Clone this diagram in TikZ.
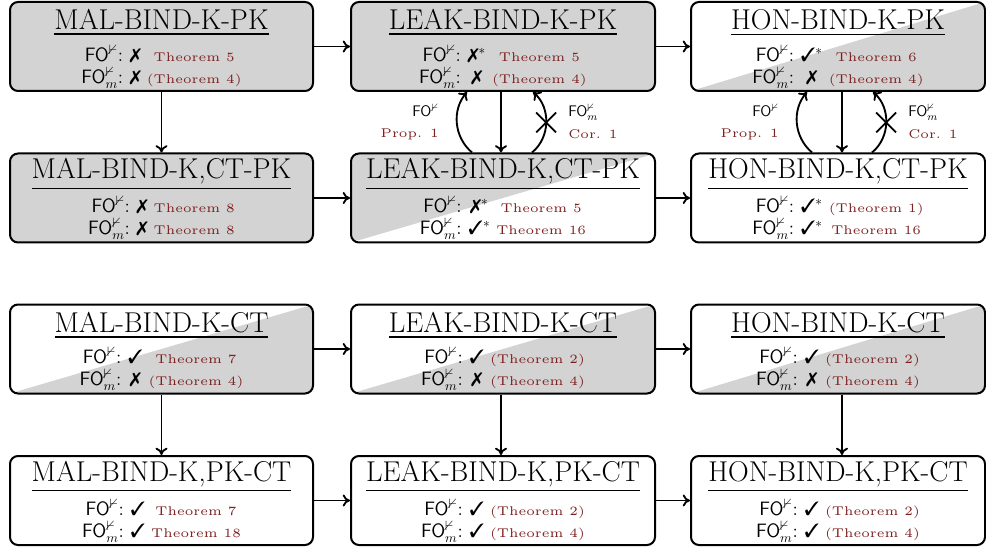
\documentclass[tikz,border=0pt]{standalone}
\usepackage{amssymb}
\usepackage{pifont}
\usepackage{graphicx}
\usetikzlibrary{arrows.meta,shapes.misc}
\definecolor{boxgray}{RGB}{211,211,211}
\definecolor{thmred}{RGB}{125,32,32}
\newcommand{\thm}[1]{\textcolor{thmred}{\scalebox{1.9}{\fontsize{5}{6}\selectfont #1}}}
\newcommand{\FOn}{\textsf{FO}$^{\nvdash}$}
\newcommand{\FOm}{\textsf{FO}$^{\nvdash}_{m}$}
\newcommand{\nok}{\ding{55}}
\newcommand{\yes}{\ding{51}}
\newcommand{\panel}[9]{%
  \node[panelbox=#4, #5] (#1) at (#2,#3) {};
  \node[ttl, anchor=base] (#1-t) at ([yshift=-#6*0.75pt]#1.north) {\underline{#7}};
  \node[txt, anchor=north] (#1-c) at ([yshift=-43.5*0.75pt]#1.north)
    {\begin{tabular}{@{}r@{\hspace{5pt}}c@{\hspace{4.5pt}}c@{}}#8\\#9\end{tabular}};
}
\begin{document}
\begin{tikzpicture}[x=0.75pt,y=-0.75pt,
  panelbox/.style={draw, line width=1.5pt, rounded corners=6pt,
    minimum width=#1*0.75pt, minimum height=66.75pt, inner sep=0pt},
  full/.style={fill=boxgray},
  plain/.style={},
  diagLR/.style={path picture={\fill[boxgray] (path picture bounding box.south west) --
     (path picture bounding box.north east) -- (path picture bounding box.south east) -- cycle;}},
  diagUL/.style={path picture={\fill[boxgray] (path picture bounding box.south west) --
     (path picture bounding box.north west) -- (path picture bounding box.north east) -- cycle;}},
  ttl/.style={inner sep=0pt, font=\fontsize{21.5}{25}\selectfont},
  txt/.style={inner sep=0pt, font=\fontsize{14.5}{15}\selectfont},
  lbl/.style={inner sep=0pt, font=\fontsize{11.5}{13}\selectfont},
  arr/.style={line width=1.4pt, -{To[length=5.5pt,width=9pt]}},
  crossx/.style={cross out, draw, line width=1.4pt, minimum size=13.5pt, inner sep=0pt}]
\useasboundingbox (0,0) rectangle (986,549);

% row 1
\panel{mkpk}{161.5}{46.5}{303}{full}{29}{MAL-BIND-K-PK}
  {\FOn: & \nok & \thm{Theorem 5}}{\FOm: & \nok & \thm{(Theorem 4)}}
\panel{lkpk}{503}{46.5}{304}{full}{29}{LEAK-BIND-K-PK}
  {\FOn: & \nok$^*$ & \thm{Theorem 5}}{\FOm: & \nok & \thm{(Theorem 4)}}
\panel{hkpk}{838}{46.5}{294}{diagLR}{29}{HON-BIND-K-PK}
  {\FOn: & \yes$^*$ & \thm{Theorem 6}}{\FOm: & \nok & \thm{(Theorem 4)}}
% row 2
\panel{mkctpk}{161.5}{198}{303}{full}{26}{MAL-BIND-K,CT-PK}
  {\FOn: & \nok & \thm{Theorem 8}}{\FOm: & \nok & \thm{Theorem 8}}
\panel{lkctpk}{503}{198}{304}{diagUL}{26}{LEAK-BIND-K,CT-PK}
  {\FOn: & \nok$^*$ & \thm{Theorem 5}}{\FOm: & \yes$^*$ & \thm{Theorem 16}}
\panel{hkctpk}{838}{198}{294}{plain}{26}{HON-BIND-K,CT-PK}
  {\FOn: & \yes$^*$ & \thm{(Theorem 1)}}{\FOm: & \yes$^*$ & \thm{Theorem 16}}
% row 3
\panel{mkct}{161.5}{349}{303}{diagLR}{29}{MAL-BIND-K-CT}
  {\FOn: & \yes & \thm{Theorem 7}}{\FOm: & \nok & \thm{(Theorem 4)}}
\panel{lkct}{503}{349}{304}{diagLR}{29}{LEAK-BIND-K-CT}
  {\FOn: & \yes & \thm{(Theorem 2)}}{\FOm: & \nok & \thm{(Theorem 4)}}
\panel{hkct}{838}{349}{294}{diagLR}{29}{HON-BIND-K-CT}
  {\FOn: & \yes & \thm{(Theorem 2)}}{\FOm: & \nok & \thm{(Theorem 4)}}
% row 4
\panel{mkpkct}{161.5}{500.5}{303}{plain}{26}{MAL-BIND-K,PK-CT}
  {\FOn: & \yes & \thm{Theorem 7}}{\FOm: & \yes & \thm{Theorem 18}}
\panel{lkpkct}{503}{500.5}{304}{plain}{26}{LEAK-BIND-K,PK-CT}
  {\FOn: & \yes & \thm{(Theorem 2)}}{\FOm: & \yes & \thm{(Theorem 4)}}
\panel{hkpkct}{838}{500.5}{294}{plain}{26}{HON-BIND-K,PK-CT}
  {\FOn: & \yes & \thm{(Theorem 2)}}{\FOm: & \yes & \thm{(Theorem 4)}}

% horizontal arrows
\draw[arr] (mkpk.east) -- (lkpk.west);
\draw[arr] (lkpk.east) -- (hkpk.west);
\draw[arr] (mkctpk.east) -- (lkctpk.west);
\draw[arr] (lkctpk.east) -- (hkctpk.west);
\draw[arr] (mkct.east) -- (lkct.west);
\draw[arr] (lkct.east) -- (hkct.west);
\draw[arr] (mkpkct.east) -- (lkpkct.west);
\draw[arr] (lkpkct.east) -- (hkpkct.west);
% vertical arrows
\draw[arr] (mkpk.south) -- (mkctpk.north);
\draw[arr] ([xshift=-1.5pt]lkpk.south) -- ([xshift=-1.5pt]lkctpk.north);
\draw[arr] ([xshift=3pt]hkpk.south) -- ([xshift=3pt]hkctpk.north);
\draw[arr] (mkct.south) -- (mkpkct.north);
\draw[arr] ([xshift=-1.5pt]lkct.south) -- ([xshift=-1.5pt]lkpkct.north);
\draw[arr] ([xshift=3pt]hkct.south) -- ([xshift=3pt]hkpkct.north);
% curved arrows, middle column
\draw[arr] ([xshift=-23.25pt]lkctpk.north) to[bend left=45] ([xshift=-27pt]lkpk.south);
\draw[arr] ([xshift=21.75pt]lkctpk.north) to[bend right=50] node[crossx] (xm) {} ([xshift=22.5pt]lkpk.south);
% curved arrows, right column
\draw[arr] ([xshift=-19.5pt]hkctpk.north) to[bend left=45] ([xshift=-23.25pt]hkpk.south);
\draw[arr] ([xshift=25.5pt]hkctpk.north) to[bend right=50] node[crossx] (xr) {} ([xshift=26.25pt]hkpk.south);
% labels
\node[lbl, anchor=base east] (lma) at (439,117) {\FOn};
\node[lbl, anchor=base east] (lmb) at (439,138) {\thm{Prop. 1}};
\node[lbl, anchor=base west] (rma) at (568,117) {\FOm};
\node[lbl, anchor=base west] (rmb) at (568,139) {\thm{Cor. 1}};
\node[lbl, anchor=base east] (lra) at (779,117) {\FOn};
\node[lbl, anchor=base east] (lrb) at (779,138) {\thm{Prop. 1}};
\node[lbl, anchor=base west] (rra) at (908,117) {\FOm};
\node[lbl, anchor=base west] (rrb) at (908,139) {\thm{Cor. 1}};
\end{tikzpicture}
\end{document}
